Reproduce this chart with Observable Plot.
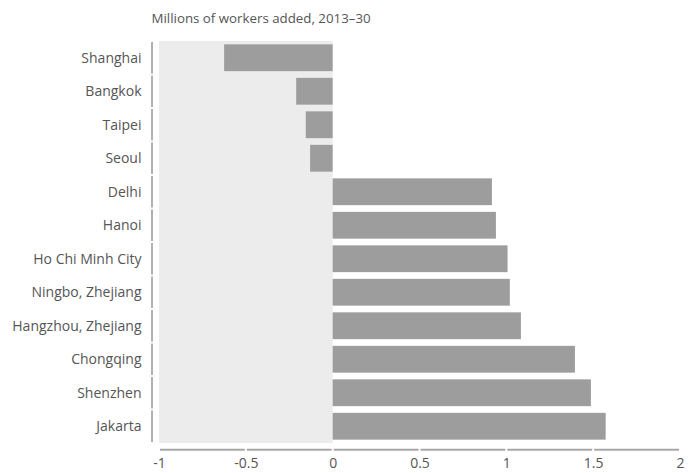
<!DOCTYPE html>
<html><head><meta charset="utf-8">
<script src="https://cdn.jsdelivr.net/npm/d3@7"></script>
<script src="https://cdn.jsdelivr.net/npm/@observablehq/plot@0.6"></script>
<style>body{margin:0;background:#fff}</style>
</head><body><div id="chart"></div>
<script>
const title = "Millions of workers added, 2013–30";
const cities = ["Shanghai","Bangkok","Taipei","Seoul","Delhi","Hanoi","Ho Chi Minh City","Ningbo, Zhejiang","Hangzhou, Zhejiang","Chongqing","Shenzhen","Jakarta"];
const workers = [-0.625,-0.21,-0.155,-0.13,0.917,0.94,1.007,1.02,1.084,1.395,1.487,1.572];
const xTicks = [-1,-0.5,0,0.5,1,1.5,2];

const data = cities.map((c,i)=>({city:c, value:workers[i]}));
const segs = xTicks.slice(0,-1).map((t,i)=>({a:t, b:xTicks[i+1]}));
const shade = [{x1: xTicks[0], x2: 0}];

const plot = Plot.plot({
  width: 697, height: 473,
  marginLeft: 159, marginRight: 17, marginTop: 41, marginBottom: 30,
  style: {fontFamily: "'Open Sans', sans-serif", fontSize: "14px", color: "#555", background: "#fff", overflow: "visible"},
  x: {domain: [xTicks[0], xTicks[xTicks.length-1]], ticks: xTicks, tickFormat: d => String(d), tickSize: 0, tickPadding: 15, label: null},
  y: {domain: cities, paddingInner: 0.2, paddingOuter: 0.1, round: false, tickSize: 0, tickPadding: 18, label: null},
  marks: [
    Plot.barX(shade, {x1: "x1", x2: "x2", fill: "#ececec"}),
    Plot.barX(data, {x: "value", y: "city", fill: "#9d9d9d"}),
    Plot.tickX(cities, {x: () => xTicks[0], y: d => d, dx: -7.5, insetTop: -2.3, insetBottom: -2.3, stroke: "#a8a8a8", strokeWidth: 1.8}),
    Plot.ruleY(segs, {x1: "a", x2: "b", y: () => cities[cities.length-1], dy: 23, insetLeft: 1, insetRight: 1, stroke: "#a8a8a8", strokeWidth: 1.8}),
    Plot.text([title], {frameAnchor: "top-left", dx: -8, dy: -23, lineAnchor: "middle", textAnchor: "start", fontSize: 13.3, fill: "#555"})
  ]
});
document.getElementById("chart").appendChild(plot);
</script>
</body></html>
